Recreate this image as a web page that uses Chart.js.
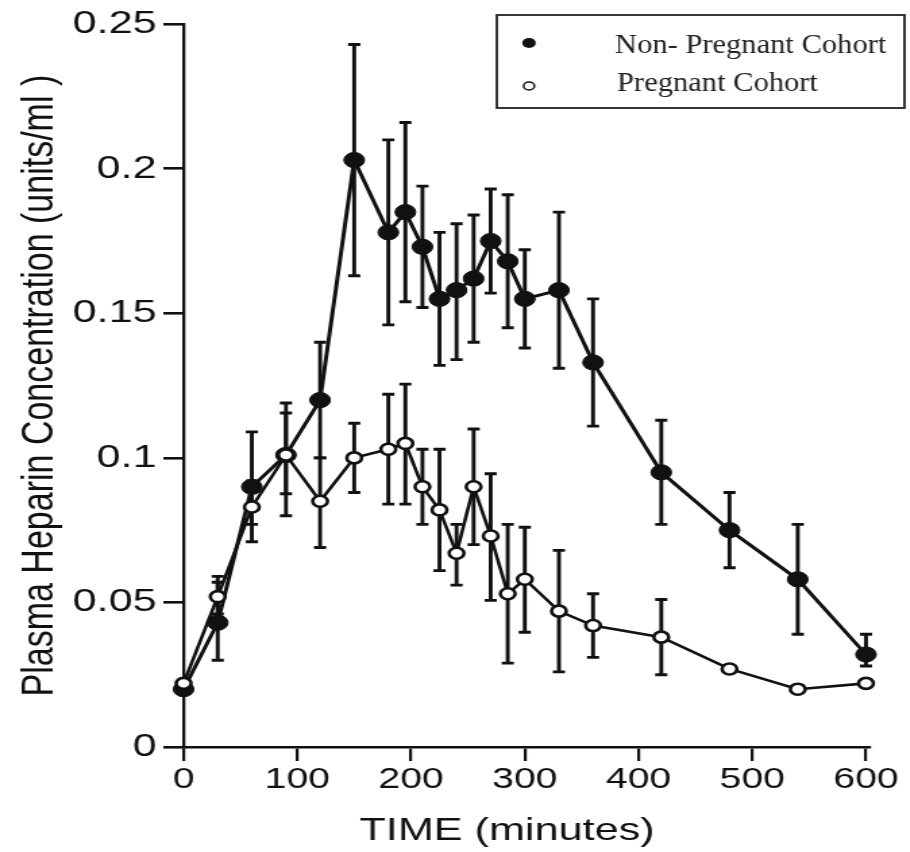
<!DOCTYPE html>
<html><head><meta charset="utf-8">
<script src="https://cdn.jsdelivr.net/npm/chart.js@4.4.1/dist/chart.umd.min.js"></script>
<style>
html,body{margin:0;padding:0;background:#fff;overflow:hidden;}
#wrap{width:674px;height:852px;transform:scaleX(1.35);transform-origin:0 0;}
canvas{display:block;}
</style></head><body>
<div id="wrap"><canvas id="c" width="674" height="852"></canvas></div>
<script>
// ---- data ----
const times = [0,30,60,90,120,150,180,195,210,225,240,255,270,285,300,330,360,420,480,540,600];

const nonPreg   = [0.020,0.043,0.090,0.101,0.120,0.203,0.178,0.185,0.173,0.155,0.158,0.162,0.175,0.168,0.155,0.158,0.133,0.095,0.075,0.058,0.032];
const nonPregHi = [null, 0.057,0.109,0.119,0.140,0.243,0.210,0.216,0.194,0.178,0.181,0.184,0.193,0.191,0.172,0.185,0.155,0.113,0.088,0.077,0.039];
const nonPregLo = [null, 0.030,0.077,0.080,0.100,0.163,0.146,0.154,0.152,0.132,0.134,0.140,0.157,0.145,0.138,0.131,0.111,0.077,0.062,0.039,0.028];

const preg   = [0.022,0.052,0.083,0.101,0.085,0.100,0.103,0.105,0.090,0.082,0.067,0.090,0.073,0.053,0.058,0.047,0.042,0.038,0.027,0.020,0.022];
const pregHi = [null, 0.059,0.092,0.1155,0.100,0.112,0.122,0.1255,0.103,0.103,0.077,0.110,0.0945,0.077,0.076,0.068,0.053,0.051,null,null,null];
const pregLo = [null, 0.046,0.071,0.0876,0.069,0.088,0.084,0.084,0.077,0.061,0.056,0.070,0.0507,0.029,0.0397,0.026,0.031,0.025,null,null,null];

const xTickValues = [0,100,200,300,400,500,600];
const xTickLabels = ['0','100','200','300','400','500','600'];
const yTickValues = [0,0.05,0.1,0.15,0.2,0.25];
const yTickLabels = ['0','0.05','0.1','0.15','0.2','0.25'];
const seriesNames = ['Non- Pregnant Cohort','Pregnant Cohort'];
const xTitle = 'TIME (minutes)';
const yTitle = 'Plasma Heparin Concentration (units/ml )';

const INK = '#111';
const SX = 1.35; // horizontal stretch of the page

const errorBars = {
  id:'errorBars',
  beforeDatasetsDraw(chart){
    const {ctx, scales:{x,y}} = chart;
    ctx.save();
    ctx.strokeStyle = INK; ctx.lineWidth = 2.9; ctx.lineCap = 'butt';
    chart.data.datasets.forEach(ds=>{
      ds.errHi.forEach((hi,i)=>{
        const lo = ds.errLo[i];
        if(hi==null || lo==null) return;
        const px = x.getPixelForValue(times[i]);
        const pt = y.getPixelForValue(hi), pb = y.getPixelForValue(lo);
        ctx.beginPath();
        ctx.moveTo(px,pt); ctx.lineTo(px,pb);
        ctx.moveTo(px-4.5,pt); ctx.lineTo(px+4.5,pt);
        ctx.moveTo(px-4.5,pb); ctx.lineTo(px+4.5,pb);
        ctx.stroke();
      });
    });
    ctx.restore();
  }
};

const extras = {
  id:'extras',
  afterDraw(chart){
    const ctx = chart.ctx;
    ctx.save();
    // legend box
    ctx.fillStyle = '#fff';
    ctx.fillRect(368, 15, 302, 93);
    ctx.strokeStyle = '#222'; ctx.lineWidth = 1.8;
    ctx.strokeRect(368, 15, 302, 93);
    const mx = 529/SX;
    ctx.fillStyle = INK;
    ctx.beginPath(); ctx.arc(mx, 43, 5, 0, Math.PI*2); ctx.fill();
    ctx.beginPath(); ctx.arc(mx, 86, 4, 0, Math.PI*2);
    ctx.fillStyle = '#fff'; ctx.fill();
    ctx.lineWidth = 1.5; ctx.strokeStyle = INK; ctx.stroke();
    ctx.fillStyle = '#222';
    ctx.font = '27.5px "Liberation Serif", "Times New Roman", serif';
    ctx.textBaseline = 'alphabetic'; ctx.textAlign = 'left';
    [[615,53],[617,91]].forEach((p,i)=>{
      ctx.save(); ctx.translate(p[0]/SX, p[1]); ctx.scale(1.11/SX, 1);
      ctx.fillText(seriesNames[i], 0, 0); ctx.restore();
    });
    // x title
    ctx.fillStyle = INK;
    ctx.font = '32px "Liberation Sans", Arial, sans-serif';
    ctx.textAlign = 'center'; ctx.textBaseline = 'middle';
    ctx.fillText(xTitle, 507/SX, 831);
    ctx.restore();
  }
};

new Chart(document.getElementById('c'), {
  type:'scatter',
  data:{
    datasets:[
      {
        label: seriesNames[0],
        data: times.map((t,i)=>({x:t, y:nonPreg[i]})),
        errHi: nonPregHi, errLo: nonPregLo,
        showLine:true, borderColor:INK, borderWidth:3, tension:0,
        pointRadius:7.6, pointBackgroundColor:INK, pointBorderColor:INK, pointBorderWidth:1,
        clip:false, order:2
      },
      {
        label: seriesNames[1],
        data: times.map((t,i)=>({x:t, y:preg[i]})),
        errHi: pregHi, errLo: pregLo,
        showLine:true, borderColor:INK, borderWidth:2.6, tension:0,
        pointRadius:5.5, pointBackgroundColor:'#fff', pointBorderColor:INK, pointBorderWidth:2.6,
        clip:false, order:1
      }
    ]
  },
  options:{
    responsive:false, maintainAspectRatio:false, devicePixelRatio:1, animation:false,
    layout:{padding:{top:22, right:30, left:0, bottom:0}},
    plugins:{legend:{display:false}, tooltip:{enabled:false}},
    scales:{
      x:{
        type:'linear', min:0, max:603,
        afterBuildTicks:s=>{ s.ticks = xTickValues.map(v=>({value:v})); },
        afterFit:s=>{ s.height = 105; },
        ticks:{ callback:(v)=>xTickLabels[xTickValues.indexOf(v)], autoSkip:false, maxRotation:0,
          font:{family:'"Liberation Sans", Arial, sans-serif', size:29}, color:INK, padding:2 },
        grid:{ drawOnChartArea:false, drawTicks:true, tickLength:14, color:INK, lineWidth:2.2 },
        border:{ display:true, color:INK, width:2.6 },
        title:{ display:false }
      },
      y:{
        type:'linear', min:0, max:0.25,
        afterBuildTicks:s=>{ s.ticks = yTickValues.map(v=>({value:v})); },
        afterFit:s=>{ s.width = 136; },
        ticks:{ callback:(v)=>yTickLabels[yTickValues.indexOf(v)], autoSkip:false,
          font:{family:'"Liberation Sans", Arial, sans-serif', size:32}, color:INK, padding:5 },
        grid:{ drawOnChartArea:false, drawTicks:true, tickLength:15, color:INK, lineWidth:2.6 },
        border:{ display:true, color:INK, width:2.3 },
        title:{ display:true, text:yTitle, color:INK,
          font:{family:'"Liberation Sans", Arial, sans-serif', size:34}, padding:{top:9, bottom:0} }
      }
    }
  },
  plugins:[errorBars, extras]
});
</script>
</body></html>
